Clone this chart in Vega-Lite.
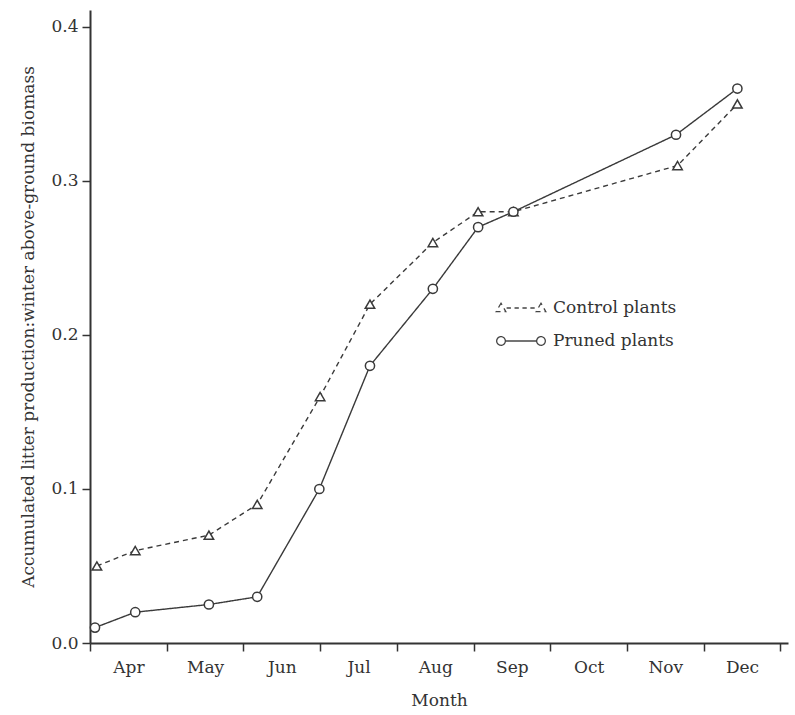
{
  "$schema": "https://vega.github.io/schema/vega-lite/v6.json",
  "width": 698,
  "height": 633,
  "autosize": {"type": "none"},
  "padding": {"left": 90, "top": 10, "right": 7, "bottom": 72},
  "background": "white",
  "data": {
    "values": [
      {"series": "Control plants", "month": 0.09, "ratio": 0.05},
      {"series": "Control plants", "month": 0.59, "ratio": 0.06},
      {"series": "Control plants", "month": 1.55, "ratio": 0.07},
      {"series": "Control plants", "month": 2.18, "ratio": 0.09},
      {"series": "Control plants", "month": 3.0, "ratio": 0.16},
      {"series": "Control plants", "month": 3.65, "ratio": 0.22},
      {"series": "Control plants", "month": 4.47, "ratio": 0.26},
      {"series": "Control plants", "month": 5.06, "ratio": 0.28},
      {"series": "Control plants", "month": 5.52, "ratio": 0.28},
      {"series": "Control plants", "month": 7.66, "ratio": 0.31},
      {"series": "Control plants", "month": 8.44, "ratio": 0.35},
      {"series": "Pruned plants", "month": 0.065, "ratio": 0.01},
      {"series": "Pruned plants", "month": 0.59, "ratio": 0.02},
      {"series": "Pruned plants", "month": 1.55, "ratio": 0.025},
      {"series": "Pruned plants", "month": 2.18, "ratio": 0.03},
      {"series": "Pruned plants", "month": 2.99, "ratio": 0.10},
      {"series": "Pruned plants", "month": 3.65, "ratio": 0.18},
      {"series": "Pruned plants", "month": 4.47, "ratio": 0.23},
      {"series": "Pruned plants", "month": 5.06, "ratio": 0.27},
      {"series": "Pruned plants", "month": 5.52, "ratio": 0.28},
      {"series": "Pruned plants", "month": 7.64, "ratio": 0.33},
      {"series": "Pruned plants", "month": 8.44, "ratio": 0.36}
    ]
  },
  "encoding": {
    "x": {
      "field": "month",
      "type": "quantitative",
      "scale": {"domain": [0, 9.1], "nice": false, "zero": false},
      "axis": {
        "title": "Month",
        "values": [0, 1, 2, 3, 4, 5, 6, 7, 8, 9],
        "labelExpr": "['Apr','May','Jun','Jul','Aug','Sep','Oct','Nov','Dec',''][datum.value]",
        "labelOffset": 38.4,
        "labelOverlap": false,
        "labelFlush": false,
        "labelBound": false,
        "tickSize": 8,
        "labelPadding": 8,
        "titlePadding": 17
      }
    },
    "y": {
      "field": "ratio",
      "type": "quantitative",
      "scale": {"domain": [0, 0.411], "nice": false},
      "axis": {
        "title": "Accumulated litter production:winter above-ground biomass",
        "values": [0, 0.1, 0.2, 0.3, 0.4],
        "format": ".1f",
        "tickSize": 8,
        "labelPadding": 4,
        "titlePadding": 13
      }
    }
  },
  "layer": [
    {
      "mark": {"type": "line", "strokeWidth": 1.4, "color": "#3a3a3a"},
      "encoding": {
        "strokeDash": {
          "field": "series",
          "type": "nominal",
          "scale": {"domain": ["Control plants", "Pruned plants"], "range": [[5, 4], [1, 0]]},
          "legend": {
            "orient": "none",
            "legendX": 406,
            "legendY": 273,
            "title": null,
            "symbolType": "M-1,0 L1,0",
            "symbolSize": 2304,
            "symbolStrokeColor": "#444",
            "symbolStrokeWidth": 1.3,
            "symbolFillColor": "white",
            "labelFont": "DejaVu Serif",
            "labelFontSize": 17,
            "labelColor": "#333",
            "labelOffset": 7,
            "rowPadding": 0,
            "encode": {
              "symbols": {
                "update": {
                  "shape": {"signal": "datum.value === 'Control plants' ? 'M-0.833,-0.2 L-1.033,0.15 L-0.633,0.15 Z M0.833,-0.2 L0.633,0.15 L1.033,0.15 Z M-0.6,0 L-0.42,0 M-0.27,0 L-0.09,0 M0.06,0 L0.24,0 M0.39,0 L0.57,0' : 'M-0.653,0 A0.18,0.18 0 1,0 -1.013,0 A0.18,0.18 0 1,0 -0.653,0 M1.013,0 A0.18,0.18 0 1,0 0.653,0 A0.18,0.18 0 1,0 1.013,0 M-0.653,0 L0.653,0'"},
                  "size": {"value": 2304},
                  "strokeDash": {"value": []},
                  "stroke": {"value": "#444"},
                  "fill": {"value": "white"}
                }
              }
            }
          }
        }
      }
    },
    {
      "mark": {"type": "point", "filled": true, "fill": "white", "stroke": "#3a3a3a", "strokeWidth": 1.5, "opacity": 1},
      "encoding": {
        "shape": {
          "condition": {"test": "datum.series === 'Control plants'", "value": "triangle-up"},
          "value": "circle"
        },
        "size": {
          "condition": {"test": "datum.series === 'Control plants'", "value": 90},
          "value": 85
        }
      }
    }
  ],
  "config": {
    "view": {"stroke": null},
    "font": "DejaVu Serif",
    "axis": {
      "grid": false,
      "domainColor": "#333",
      "domainWidth": 2,
      "tickColor": "#333",
      "tickWidth": 1.5,
      "labelFont": "DejaVu Serif",
      "labelFontSize": 17,
      "labelColor": "#333",
      "titleFont": "DejaVu Serif",
      "titleFontSize": 17,
      "titleFontWeight": "normal",
      "titleColor": "#333"
    }
  }
}
